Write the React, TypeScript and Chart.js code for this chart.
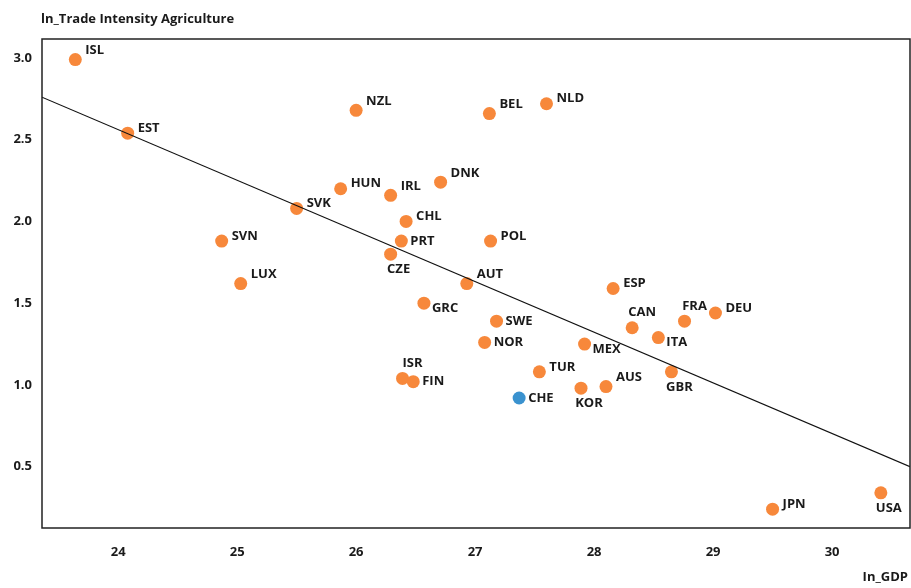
import React, { useEffect, useRef } from "react";
import { Chart, registerables } from "chart.js";

Chart.register(...registerables);

const countries = ["ISL","EST","NZL","BEL","NLD","DNK","HUN","IRL","SVK","CHL","SVN","PRT","POL","CZE","LUX","AUT","ESP","GRC","SWE","CAN","FRA","DEU","ITA","NOR","MEX","GBR","TUR","ISR","FIN","AUS","KOR","CHE","JPN","USA"];
const lnGDP = [23.64,24.08,26.0,27.12,27.60,26.71,25.87,26.29,25.50,26.42,24.87,26.38,27.13,26.29,25.03,26.93,28.16,26.57,27.18,28.32,28.76,29.02,28.54,27.08,27.92,28.65,27.54,26.39,26.48,28.10,27.89,27.37,29.50,30.41];
const lnTradeAgri = [2.99,2.54,2.68,2.66,2.72,2.24,2.20,2.16,2.08,2.00,1.88,1.88,1.88,1.80,1.62,1.62,1.59,1.50,1.39,1.35,1.39,1.44,1.29,1.26,1.25,1.08,1.08,1.04,1.02,0.99,0.98,0.92,0.24,0.34];
const highlighted = ["CHE"];

const trendX = [23.36, 30.655];
const trendY = [2.76, 0.50];

const xTicks = [24, 25, 26, 27, 28, 29, 30];
const yTicks = [0.5, 1.0, 1.5, 2.0, 2.5, 3.0];

const yTitle = "ln_Trade Intensity Agriculture";
const xTitle = "In_GDP";

// label placement: r = right, ru = right/up, rd = right/down, a = above, b = below
const placement: Record<string, string> = {
  ISL: "ru", NZL: "ru", BEL: "ru", DNK: "ru", IRL: "ru", LUX: "ru", AUT: "ru", AUS: "ru",
  NLD: "r", EST: "r", HUN: "r", SVK: "r", CHL: "r", SVN: "r", POL: "r", ESP: "r", DEU: "r", TUR: "r", JPN: "r",
  PRT: "r0", SWE: "r0", NOR: "r0", CHE: "r0", FIN: "r0",
  GRC: "rd", ITA: "rd", MEX: "rd",
  CAN: "a", FRA: "a", ISR: "a",
  CZE: "b", GBR: "b", KOR: "b", USA: "b",
};

const FONT = "'Open Sans', Lato, sans-serif";
const ORANGE = "#F7883B";
const BLUE = "#3A92CF";

const overlay = {
  id: "overlay",
  afterDatasetsDraw(chart: any) {
    const { ctx, chartArea, scales } = chart;
    ctx.save();
    ctx.strokeStyle = "#222";
    ctx.lineWidth = 1.5;
    ctx.strokeRect(chartArea.left, chartArea.top, chartArea.right - chartArea.left, chartArea.bottom - chartArea.top);
    ctx.fillStyle = "#1a1a1a";
    ctx.font = `bold 13px ${FONT}`;
    ctx.textBaseline = "middle";
    ctx.textAlign = "left";
    ctx.fillText(yTitle, 41, 19);
    ctx.textAlign = "right";
    ctx.fillText(xTitle, 908, 577);
    countries.forEach((c, i) => {
      const px = scales.x.getPixelForValue(lnGDP[i]);
      const py = scales.y.getPixelForValue(lnTradeAgri[i]);
      const p = placement[c] || "r";
      let x = px, y = py;
      if (p === "r") { ctx.textAlign = "left"; x = px + 10; y = py - 5; }
      else if (p === "ru") { ctx.textAlign = "left"; x = px + 10; y = py - 9; }
      else if (p === "r0") { ctx.textAlign = "left"; x = px + 9; y = py; }
      else if (p === "rd") { ctx.textAlign = "left"; x = px + 8; y = py + 5; }
      else if (p === "a") { ctx.textAlign = "center"; x = px + 10; y = py - 15; }
      else if (p === "b") { ctx.textAlign = "center"; x = px + 8; y = py + 15; }
      ctx.fillText(c, x, y);
    });
    ctx.restore();
  },
};

export default function App() {
  const ref = useRef<HTMLCanvasElement>(null);
  useEffect(() => {
    if (!ref.current) return;
    const chart = new Chart(ref.current, {
      type: "scatter",
      data: {
        datasets: [
          {
            type: "line",
            data: trendX.map((x, i) => ({ x, y: trendY[i] })),
            borderColor: "#111",
            borderWidth: 1.2,
            pointRadius: 0,
            fill: false,
          } as any,
          {
            data: lnGDP.map((x, i) => ({ x, y: lnTradeAgri[i] })),
            pointRadius: 6.5,
            pointBorderWidth: 0,
            pointBackgroundColor: countries.map((c) => (highlighted.includes(c) ? BLUE : ORANGE)),
            pointBorderColor: countries.map((c) => (highlighted.includes(c) ? BLUE : ORANGE)),
          },
        ],
      },
      options: {
        animation: false,
        responsive: false,
        maintainAspectRatio: false,
        layout: { autoPadding: false, padding: { top: 39, right: 1, left: 0, bottom: 0 } },
        plugins: { legend: { display: false }, tooltip: { enabled: false }, title: { display: false } },
        scales: {
          x: {
            type: "linear",
            min: 23.36,
            max: 30.655,
            grid: { display: false, drawTicks: false },
            border: { display: false },
            afterBuildTicks: (s: any) => { s.ticks = xTicks.map((v) => ({ value: v })); },
            afterFit: (s: any) => { s.height = 60; },
            ticks: {
              padding: 16,
              color: "#1a1a1a",
              font: { family: FONT, size: 13, weight: "bold" },
              callback: (v: any) => String(v),
            },
          },
          y: {
            type: "linear",
            min: 0.125,
            max: 3.116,
            grid: { display: false, drawTicks: false },
            border: { display: false },
            afterBuildTicks: (s: any) => { s.ticks = yTicks.map((v) => ({ value: v })); },
            afterFit: (s: any) => { s.width = 42; },
            ticks: {
              padding: 10,
              color: "#1a1a1a",
              font: { family: FONT, size: 13, weight: "bold" },
              callback: (v: any) => Number(v).toFixed(1),
            },
          },
        },
      },
      plugins: [overlay],
    });
    return () => chart.destroy();
  }, []);
  return (
    <div style={{ position: "fixed", left: 0, top: 0, width: 911, height: 588, background: "#fff" }}>
      <canvas ref={ref} width={911} height={588} style={{ width: 911, height: 588, display: "block" }} />
    </div>
  );
}
